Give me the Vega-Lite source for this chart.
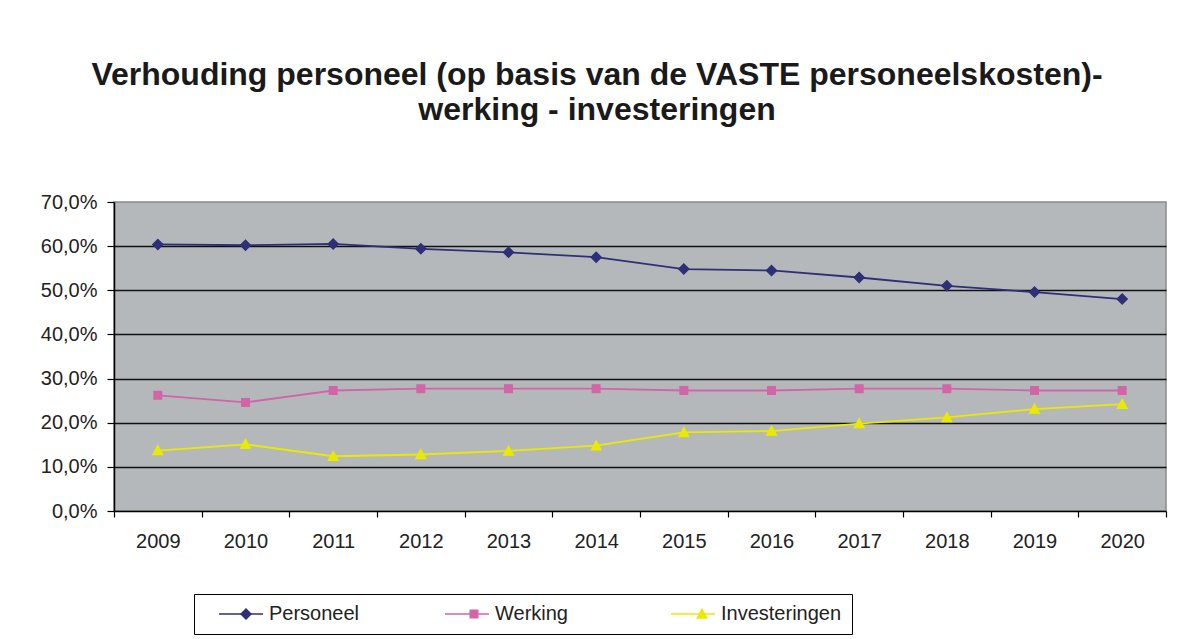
{
  "$schema": "https://vega.github.io/schema/vega-lite/v6.json",
  "autosize": "none",
  "width": 1052,
  "height": 309,
  "padding": {"left": 114, "top": 202, "right": 20, "bottom": 128},
  "background": "white",
  "title": {
    "text": ["Verhouding personeel (op basis van de VASTE personeelskosten)-", "werking - investeringen"],
    "font": "Liberation Sans",
    "fontSize": 32,
    "fontWeight": "bold",
    "color": "#1a1a1a",
    "lineHeight": 35,
    "anchor": "middle",
    "frame": "group",
    "dx": -43,
    "offset": 65
  },
  "data": {
    "values": [
      {"jaar": "2009", "serie": "Personeel", "waarde": 0.604},
      {"jaar": "2010", "serie": "Personeel", "waarde": 0.602},
      {"jaar": "2011", "serie": "Personeel", "waarde": 0.605},
      {"jaar": "2012", "serie": "Personeel", "waarde": 0.594},
      {"jaar": "2013", "serie": "Personeel", "waarde": 0.586},
      {"jaar": "2014", "serie": "Personeel", "waarde": 0.575},
      {"jaar": "2015", "serie": "Personeel", "waarde": 0.548},
      {"jaar": "2016", "serie": "Personeel", "waarde": 0.545},
      {"jaar": "2017", "serie": "Personeel", "waarde": 0.529},
      {"jaar": "2018", "serie": "Personeel", "waarde": 0.510},
      {"jaar": "2019", "serie": "Personeel", "waarde": 0.496},
      {"jaar": "2020", "serie": "Personeel", "waarde": 0.480},
      {"jaar": "2009", "serie": "Werking", "waarde": 0.262},
      {"jaar": "2010", "serie": "Werking", "waarde": 0.246},
      {"jaar": "2011", "serie": "Werking", "waarde": 0.273},
      {"jaar": "2012", "serie": "Werking", "waarde": 0.277},
      {"jaar": "2013", "serie": "Werking", "waarde": 0.277},
      {"jaar": "2014", "serie": "Werking", "waarde": 0.277},
      {"jaar": "2015", "serie": "Werking", "waarde": 0.273},
      {"jaar": "2016", "serie": "Werking", "waarde": 0.273},
      {"jaar": "2017", "serie": "Werking", "waarde": 0.277},
      {"jaar": "2018", "serie": "Werking", "waarde": 0.277},
      {"jaar": "2019", "serie": "Werking", "waarde": 0.273},
      {"jaar": "2020", "serie": "Werking", "waarde": 0.273},
      {"jaar": "2009", "serie": "Investeringen", "waarde": 0.137},
      {"jaar": "2010", "serie": "Investeringen", "waarde": 0.151},
      {"jaar": "2011", "serie": "Investeringen", "waarde": 0.124},
      {"jaar": "2012", "serie": "Investeringen", "waarde": 0.128},
      {"jaar": "2013", "serie": "Investeringen", "waarde": 0.136},
      {"jaar": "2014", "serie": "Investeringen", "waarde": 0.148},
      {"jaar": "2015", "serie": "Investeringen", "waarde": 0.178},
      {"jaar": "2016", "serie": "Investeringen", "waarde": 0.181},
      {"jaar": "2017", "serie": "Investeringen", "waarde": 0.198},
      {"jaar": "2018", "serie": "Investeringen", "waarde": 0.212},
      {"jaar": "2019", "serie": "Investeringen", "waarde": 0.231},
      {"jaar": "2020", "serie": "Investeringen", "waarde": 0.242}
    ]
  },
  "encoding": {
    "x": {
      "field": "jaar",
      "type": "ordinal",
      "title": null,
      "scale": {"type": "band", "paddingInner": 0, "paddingOuter": 0},
      "axis": {
        "labelAngle": 0,
        "labelFont": "Liberation Sans",
        "labelFontSize": 20,
        "labelColor": "#222222",
        "labelPadding": 14,
        "tickBand": "extent",
        "tickColor": "black",
        "tickSize": 6,
        "tickWidth": 1.2,
        "domainColor": "black",
        "domainWidth": 1.5,
        "grid": false
      }
    },
    "y": {
      "field": "waarde",
      "type": "quantitative",
      "title": null,
      "scale": {"domain": [0, 0.7], "nice": false},
      "axis": {
        "values": [0, 0.1, 0.2, 0.3, 0.4, 0.5, 0.6, 0.7],
        "labelExpr": "replace(format(datum.value, '.1%'), '.', ',')",
        "labelFont": "Liberation Sans",
        "labelFontSize": 20,
        "labelColor": "#222222",
        "labelPadding": 10,
        "tickColor": "black",
        "tickSize": 7,
        "tickWidth": 1.2,
        "domainColor": "black",
        "domainWidth": 1.5,
        "grid": true,
        "gridColor": {"condition": {"test": "datum.value >= 0.69 || datum.value <= 0.01", "value": "transparent"}, "value": "#111111"},
        "gridWidth": 1.5
      }
    }
  },
  "layer": [
    {
      "mark": {"type": "line", "strokeWidth": 1.8},
      "encoding": {
        "stroke": {
          "field": "serie",
          "type": "nominal",
          "sort": ["Personeel", "Werking", "Investeringen"],
          "scale": {"range": ["#2f2f78", "#d264a8", "#eaea00"]},
          "legend": {
            "title": null,
            "orient": "none",
            "legendX": 80,
            "legendY": 392,
            "direction": "horizontal",
            "columns": 3,
            "gridAlign": "all",
            "columnPadding": 40,
            "padding": 10,
            "strokeColor": "black",
            "labelFont": "Liberation Sans",
            "labelFontSize": 20,
            "labelColor": "#222222",
            "labelOffset": 5,
            "symbolType": "M-1,0L-1,0M-0.517,0H1",
            "symbolSize": 3364,
            "symbolStrokeWidth": 1.5,
            "symbolOffset": 0,
            "clipHeight": 20
          }
        }
      }
    },
    {
      "mark": {"type": "point", "filled": true, "opacity": 1, "size": 100, "strokeWidth": 0},
      "encoding": {
        "fill": {
          "field": "serie",
          "type": "nominal",
          "scale": {"domain": ["Personeel", "Werking", "Investeringen"], "range": ["#2f2f78", "#d264a8", "#eaea00"]},
          "legend": {
            "title": null,
            "orient": "none",
            "legendX": 80,
            "legendY": 392,
            "direction": "horizontal",
            "columns": 3,
            "gridAlign": "all",
            "columnPadding": 40,
            "padding": 10,
            "labelFont": "Liberation Sans",
            "labelFontSize": 20,
            "labelOpacity": 0,
            "labelOffset": 15,
            "symbolSize": 100,
            "symbolStrokeWidth": 0,
            "symbolOffset": 32,
            "clipHeight": 20
          }
        },
        "shape": {
          "field": "serie",
          "type": "nominal",
          "scale": {
            "domain": ["Personeel", "Werking", "Investeringen"],
            "range": [
              "M-7.2,0L-7.2,0M0,-1.2L1.2,0L0,1.2L-1.2,0Z",
              "M-7.2,0L-7.2,0M-0.9,-0.9H0.9V0.9H-0.9Z",
              "M-7.2,0L-7.2,0M0,-1.25L1.2,0.95H-1.2Z"
            ]
          },
          "legend": {
            "title": null,
            "orient": "none",
            "legendX": 80,
            "legendY": 392,
            "direction": "horizontal",
            "columns": 3,
            "gridAlign": "all",
            "columnPadding": 40,
            "padding": 10,
            "labelFont": "Liberation Sans",
            "labelFontSize": 20,
            "labelOpacity": 0,
            "labelOffset": 15,
            "symbolSize": 100,
            "symbolStrokeWidth": 0,
            "symbolOffset": 32,
            "clipHeight": 20
          }
        }
      }
    }
  ],
  "config": {
    "view": {"fill": "#b5b8bb", "stroke": "#8a8a8a", "strokeWidth": 1.5}
  }
}
